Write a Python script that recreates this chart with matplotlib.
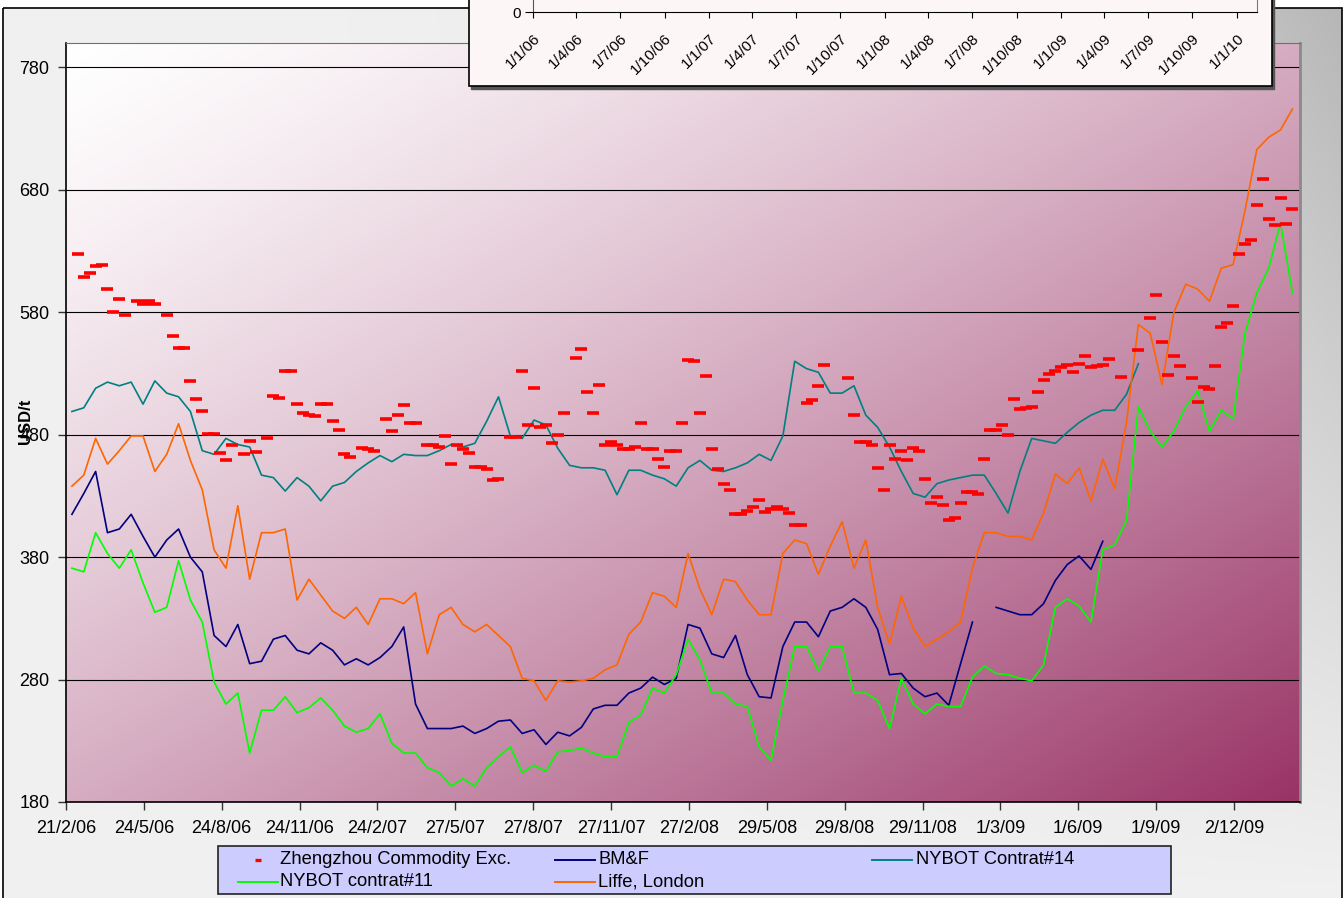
import numpy as np
import matplotlib.pyplot as plt
from matplotlib.patches import Rectangle

plt.rcParams['font.family'] = ['Liberation Sans', 'DejaVu Sans']

W, H = 1344, 898
nan = np.nan

# fortnightly readings of the four futures series, first point 28/2/06
line_start = np.datetime64('2006-02-28')

bmf = [415, 432, 450, 400, 403, 415, 397, 380, 394, 403, 380, 368, 316, 307, 325, 293, 295, 313, 316, 304, 301,
       310, 304, 292, 297, 292, 298, 307, 323, 260, 240, 240, 240, 242, 236, 240, 246, 247, 236, 239, 227, 237, 234,
       241, 256, 259, 259, 269, 273, 282, 276, 281, 325, 322, 301, 298, 316, 284, 266, 265, 307, 327, 327, 315,
       336, 339, 346, 339, 321, 284, 285, 273, 266, 269, 259, 293, 327, nan, 339, 336, 333, 333, 342, 361, 374,
       381, 370, 393]

nybot14 = [499, 502, 518, 523, 520, 523, 505, 524, 514, 511, 499, 467, 464, 477, 472, 470, 447, 445, 434, 445, 438,
           426, 438, 441, 450, 457, 463, 458, 464, 463, 463, 467, 472, 470, 473, 491, 511, 479, 477, 492, 488, 469, 455,
           453, 453, 451, 431, 451, 451, 447, 444, 438, 453, 459, 451, 450, 453, 457, 464, 459, 479, 540, 534, 531,
           514, 514, 520, 496, 486, 470, 450, 432, 429, 440, 443, 445, 447, 447, 432, 416, 450, 477, 475, 473, 482,
           490, 496, 500, 500, 513, 538]

nybot11 = [371, 368, 400, 383, 371, 386, 359, 335, 339, 377, 345, 327, 278, 260, 269, 220, 255, 255, 266, 253, 257,
           265, 255, 242, 237, 240, 252, 228, 220, 220, 208, 204, 193, 199, 193, 208, 217, 225, 204, 210, 205, 221, 222,
           224, 220, 217, 217, 245, 251, 273, 269, 284, 313, 296, 269, 269, 260, 258, 225, 214, 263, 307, 307, 287,
           307, 307, 269, 269, 263, 240, 281, 260, 252, 260, 258, 258, 282, 291, 285, 284, 281, 279, 292, 339, 346,
           340, 327, 386, 390, 410, 503, 483, 470, 483, 503, 516, 483, 500, 493, 563, 596, 616, 653, 596]

liffe = [438, 447, 477, 456, 467, 479, 479, 450, 464, 489, 459, 435, 386, 371, 422, 362, 400, 400, 403, 345, 362,
         349, 336, 330, 339, 325, 346, 346, 342, 351, 301, 333, 339, 325, 319, 325, 316, 307, 281, 279, 263, 279, 278,
         279, 281, 288, 292, 317, 327, 351, 348, 339, 383, 354, 333, 362, 360, 345, 333, 333, 383, 394, 391, 366,
         389, 409, 371, 394, 339, 309, 348, 322, 307, 313, 319, 327, 371, 400, 400, 397, 397, 394, 416, 448, 440,
         453, 426, 460, 436, 490, 570, 563, 521, 580, 603, 599, 589, 616, 619, 663, 713, 723, 729, 746]

# Zhengzhou weekly quotes (week number from 7/3/06, value)
zz_start = np.datetime64('2006-03-07')
zz_week = [0, 1, 2, 3, 4, 5, 6, 7, 8, 10, 11, 12, 13, 15, 16, 17, 18, 19, 20, 21, 22, 23, 24, 25, 26, 28, 29, 30,
           32, 33, 34, 35, 36, 37, 38, 39, 40, 41, 42, 43, 44, 45, 46, 48, 49, 50, 52, 53, 54, 55, 56, 57, 59, 60,
           61, 62, 63, 64, 65, 66, 67, 68, 69, 70, 71, 73, 74, 75, 76, 77, 78, 79, 80, 81, 82, 84, 85, 86, 87, 88,
           89, 90, 91, 92, 93, 94, 95, 96, 97, 98, 99, 100, 101, 102, 103, 104, 105, 106, 107, 108, 109, 110, 111,
           112, 113, 114, 115, 116, 117, 118, 119, 120, 121, 122, 123, 124, 125, 126, 130, 131, 132, 133, 134, 135,
           136, 137, 138, 139, 140, 141, 142, 143, 144, 145, 146, 147, 148, 149, 150, 151, 152, 153, 154, 155, 156,
           157, 158, 159, 160, 161, 162, 163, 164, 165, 166, 167, 168, 169, 170, 171, 172, 173, 174, 176, 179, 181,
           182, 183, 184, 185, 186, 188, 189, 190, 191, 192, 193, 194, 195, 196, 197, 198, 199, 200, 201, 202, 203,
           204, 205]
zz_val = [628, 609, 612, 618, 619, 599, 580, 591, 578, 589, 587, 589, 587, 578, 561, 551, 551, 524, 509, 499, 481,
          481, 465, 459, 472, 464, 475, 466, 477, 512, 510, 532, 532, 505, 498, 496, 495, 505, 505, 491, 484, 464,
          462, 469, 468, 467, 493, 483, 496, 504, 490, 490, 472, 472, 470, 479, 456, 472, 468, 465, 454, 454, 452,
          443, 444, 478, 478, 532, 488, 518, 486, 488, 473, 480, 498, 543, 550, 515, 498, 521, 472, 474, 472, 468,
          468, 470, 490, 468, 468, 460, 454, 467, 467, 490, 541, 540, 498, 528, 468, 452, 440, 435, 415, 415, 418,
          421, 427, 417, 419, 421, 419, 416, 406, 406, 506, 508, 520, 537, 526, 496, 474, 474, 472, 453, 435, 472,
          460, 467, 459, 469, 467, 444, 424, 429, 423, 410, 412, 424, 433, 433, 432, 460, 484, 484, 488, 480, 509,
          501, 502, 503, 515, 525, 530, 532, 535, 537, 531, 538, 544, 535, 536, 537, 542, 527, 549, 575, 594, 556,
          529, 544, 536, 526, 507, 519, 517, 536, 568, 571, 585, 628, 636, 639, 668, 689, 656, 651, 673, 652, 664]

tick_dates = ['2006-02-21', '2006-05-24', '2006-08-24', '2006-11-24', '2007-02-24', '2007-05-27', '2007-08-27',
              '2007-11-27', '2008-02-27', '2008-05-29', '2008-08-29', '2008-11-29', '2009-03-01', '2009-06-01',
              '2009-09-01', '2009-12-02']
tick_labels = ['21/2/06', '24/5/06', '24/8/06', '24/11/06', '24/2/07', '27/5/07', '27/8/07', '27/11/07',
               '27/2/08', '29/5/08', '29/8/08', '29/11/08', '1/3/09', '1/6/09', '1/9/09', '2/12/09']

inset_dates = ['2006-01-01', '2006-04-01', '2006-07-01', '2006-10-01', '2007-01-01', '2007-04-01', '2007-07-01',
               '2007-10-01', '2008-01-01', '2008-04-01', '2008-07-01', '2008-10-01', '2009-01-01', '2009-04-01',
               '2009-07-01', '2009-10-01', '2010-01-01']
inset_labels = ['1/1/06', '1/4/06', '1/7/06', '1/10/06', '1/1/07', '1/4/07', '1/7/07', '1/10/07', '1/1/08',
                '1/4/08', '1/7/08', '1/10/08', '1/1/09', '1/4/09', '1/7/09', '1/10/09', '1/1/10']

names = ['Zhengzhou Commodity Exc.', 'BM&F', 'NYBOT Contrat#14', 'NYBOT contrat#11', 'Liffe, London']
colors = ['#ff0000', '#000080', '#008080', '#00ff00', '#ff6600']


def dates_for(vals):
    return line_start + 14 * np.arange(len(vals))


def fx(px):
    return px / W


def fy(py):
    return 1 - py / H


fig = plt.figure(figsize=(W / 100, H / 100), dpi=100)

# background layer, pixel coordinates
bg = fig.add_axes([0, 0, 1, 1], zorder=0)
yy, xx = np.mgrid[0:1:300j, 0:1:400j]
g = 0.945 - 0.23 * xx ** 3 * (1 - yy)
bg.imshow(np.dstack([g, g, g]), extent=(3, 1342, H + 2, 8), aspect='auto', interpolation='bilinear')
t = ((xx + yy) / 2) ** 1.3
maroon = np.array([0.6, 0.2, 0.4])
bg.imshow(1 + (maroon - 1) * t[..., None], extent=(66, 1300, 802, 43), aspect='auto', interpolation='bilinear')
bg.add_patch(Rectangle((3, 8), 1339, H, fill=False, ec='black', lw=1.2))
bg.set_xlim(0, W)
bg.set_ylim(H, 0)
bg.axis('off')

# main chart
ax = fig.add_axes([fx(66), fy(802), fx(1300) - fx(66), fy(43) - fy(802)], zorder=1)
ax.set_facecolor('none')
ax.plot(dates_for(bmf), bmf, color=colors[1], lw=1.2)
ax.plot(dates_for(nybot14), nybot14, color=colors[2], lw=1.2)
ax.plot(dates_for(nybot11), nybot11, color=colors[3], lw=1.2)
ax.plot(dates_for(liffe), liffe, color=colors[4], lw=1.2)
zz_dates = zz_start + 7 * np.array(zz_week)
ax.plot(zz_dates, zz_val, ls='none', marker='_', ms=8.4, mew=2.6, color=colors[0], zorder=4)

ax.set_ylim(180, 800)
ax.set_yticks(range(180, 781, 100))
ax.grid(axis='y', color='black', lw=0.8)
ax.set_xlim(np.datetime64('2006-02-21'), np.datetime64('2010-02-18'))
ax.set_xticks(np.array(tick_dates, dtype='datetime64[D]'), tick_labels)
ax.tick_params(axis='both', labelsize=13, length=6, width=1, color='#333333')
ax.tick_params(axis='x', pad=7)
ax.tick_params(axis='y', pad=6)
for side in ['left', 'bottom']:
    ax.spines[side].set_color('black')
    ax.spines[side].set_linewidth(1.2)
ax.spines['top'].set_color('#707070')
ax.spines['right'].set_color('#8a8a8a')
ax.spines['right'].set_linewidth(2)
ax.set_ylabel('USD/t', fontsize=12, fontweight='bold')
ax.yaxis.set_label_coords((33 - 66) / 1234, (802 - 421) / 759)

# overlay: inset box and legend
top = fig.add_axes([0, 0, 1, 1], zorder=2)
top.set_facecolor('none')
top.add_patch(Rectangle((471, -10), 803, 99, color='#555555'))
top.add_patch(Rectangle((469, -10), 803, 96, fc='#fdf6f6', ec='black', lw=1.2))
grad = np.linspace(0, 1, 200)[None, :, None]
tan0 = np.array([0.92, 0.72, 0.54])
tan1 = np.array([1.0, 0.8, 0.6])
top.imshow(tan0 + (tan1 - tan0) * grad, extent=(533, 1257, 12, -30), aspect='auto')
top.add_patch(Rectangle((218, 846), 953, 48, fc='#ccccff', ec='#222222', lw=1.2))

row_y = [860, 882]
hx = [238, 555, 872]
tx = [280, 598, 916]
slots = [(0, 0), (1, 0), (2, 0), (0, 1), (1, 1)]
for i, (c, r) in enumerate(slots):
    if i == 0:
        top.plot([hx[c] + 20], [row_y[r]], ls='none', marker='_', ms=4.5, mew=2.4, color=colors[i])
    else:
        top.plot([hx[c], hx[c] + 40], [row_y[r], row_y[r]], color=colors[i], lw=1.4)
    top.text(tx[c], row_y[r], names[i], fontsize=13.2, va='center', ha='left')
top.set_xlim(0, W)
top.set_ylim(H, 0)
top.axis('off')

# inset axis strip
ax_in = fig.add_axes([fx(533), fy(12), fx(1257) - fx(533), 40 / H], zorder=3)
ax_in.set_facecolor('none')
ax_in.set_xlim(np.datetime64('2006-01-01'), np.datetime64('2010-02-12'))
ax_in.set_ylim(0, 1)
ax_in.set_yticks([0], ['0'])
ax_in.set_xticks(np.array(inset_dates, dtype='datetime64[D]'), inset_labels,
                 rotation=45, ha='right', rotation_mode='anchor')
ax_in.tick_params(axis='x', labelsize=11, length=4, pad=10)
ax_in.tick_params(axis='y', labelsize=11, length=6, pad=3)
ax_in.spines['top'].set_visible(False)
ax_in.spines['left'].set_color('#555555')
ax_in.spines['right'].set_color('#777777')
ax_in.spines['bottom'].set_color('black')

fig.savefig('out.png', dpi=100)
